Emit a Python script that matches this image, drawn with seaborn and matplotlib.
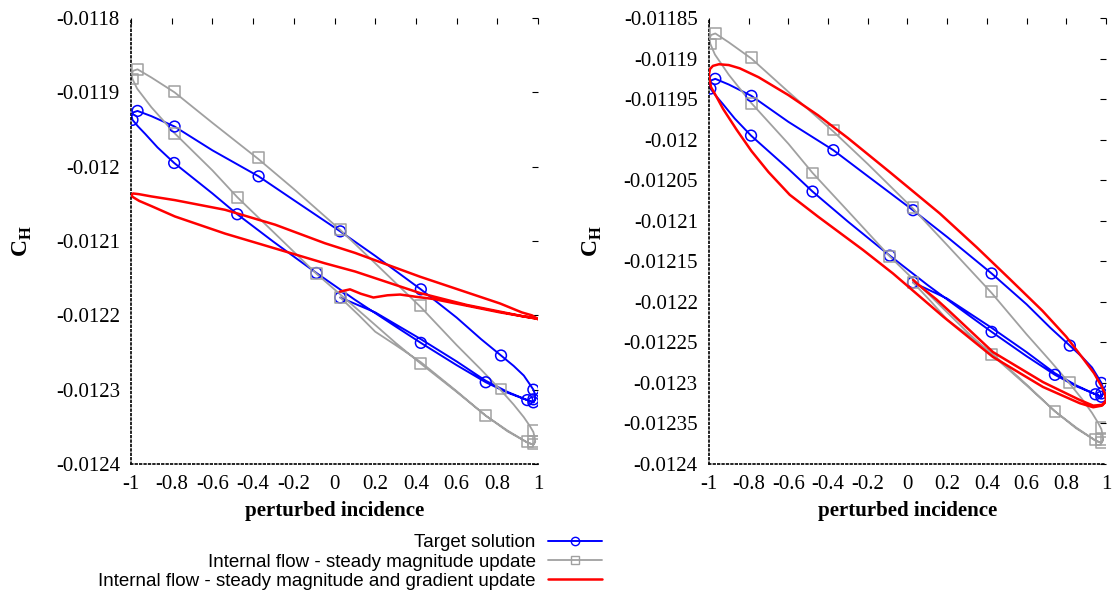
import numpy as np
import pandas as pd
import matplotlib
matplotlib.use('Agg')
import matplotlib.pyplot as plt
import matplotlib.ticker as mticker
from matplotlib.lines import Line2D
import seaborn as sns

# ------------------------------------------------------------------
# data (perturbed incidence vs C_H)
# ------------------------------------------------------------------

# target solution : path (shared by both panels)
target_x = [0.028, 0.2, 0.424, 0.6, 0.743, 0.85, 0.947, 0.977, 0.986, 0.985, 0.977,
            0.96, 0.93, 0.88, 0.818, 0.72, 0.6, 0.424, 0.2, 0.028, -0.2, -0.373, -0.6,
            -0.786, -0.9, -0.968, -0.99, -0.997, -0.993, -0.965, -0.93, -0.87, -0.788,
            -0.6, -0.478, -0.3, -0.089, 0.1, 0.3, 0.424, 0.6, 0.743, 0.85, 0.947, 0.977,
            0.986]
target_y = [-0.012176, -0.012196, -0.012232, -0.012262, -0.012288, -0.012303, -0.012314,
            -0.012317, -0.012313, -0.012306, -0.012300, -0.012293, -0.012281, -0.012268,
            -0.012254, -0.012232, -0.012203, -0.012165, -0.012120, -0.012087, -0.012045,
            -0.012013, -0.011978, -0.011946, -0.011932, -0.011925, -0.011927, -0.011932,
            -0.011937, -0.011946, -0.011956, -0.011974, -0.011995, -0.012036, -0.012064,
            -0.012101, -0.012143, -0.012179, -0.012215, -0.012237, -0.012267, -0.012290,
            -0.012304, -0.012314, -0.012317, -0.012313]
# target solution : symbols
target_mx = [-0.993, -0.968, -0.786, -0.788, -0.373, -0.478, 0.028, -0.089, 0.424,
             0.028, 0.424, 0.818, 0.743, 0.977, 0.947, 0.977, 0.977]
target_my = [-0.011937, -0.011925, -0.011946, -0.011995, -0.012013, -0.012064, -0.012087,
             -0.012143, -0.012165, -0.012176, -0.012237, -0.012254, -0.012290, -0.012300,
             -0.012314, -0.012313, -0.012317]

# internal flow - steady magnitude update : path (shared by both panels)
steady_x = [0.028, 0.12, 0.2, 0.3, 0.424, 0.6, 0.743, 0.85, 0.947, 0.977, 0.986, 0.983,
            0.977, 0.96, 0.93, 0.88, 0.818, 0.72, 0.6, 0.424, 0.2, 0.028, -0.2, -0.373,
            -0.6, -0.786, -0.9, -0.968, -0.99, -0.997, -0.993, -0.97, -0.9, -0.786, -0.6,
            -0.478, -0.3, -0.089, 0.1, 0.3, 0.424, 0.6, 0.743, 0.85, 0.947, 0.977, 0.986]
steady_y = [-0.012176, -0.012200, -0.012222, -0.012240, -0.012263, -0.012302, -0.012335,
            -0.012355, -0.012371, -0.012374, -0.012370, -0.012364, -0.012357, -0.012349,
            -0.012337, -0.012320, -0.012301, -0.012273, -0.012240, -0.012189, -0.012130,
            -0.012085, -0.012030, -0.011990, -0.011941, -0.011900, -0.011880, -0.011869,
            -0.011871, -0.011876, -0.011882, -0.011895, -0.011920, -0.011955, -0.012005,
            -0.012041, -0.012088, -0.012144, -0.012189, -0.012237, -0.012265, -0.012303,
            -0.012335, -0.012356, -0.012371, -0.012374, -0.012370]
# internal flow - steady magnitude update : symbols
steady_mx = [-0.993, -0.968, -0.786, -0.786, -0.373, -0.478, 0.028, -0.089, 0.028,
             0.424, 0.424, 0.818, 0.743, 0.977, 0.947, 0.977, 0.977]
steady_my = [-0.011882, -0.011869, -0.011899, -0.011955, -0.011988, -0.012041, -0.012084,
             -0.012144, -0.012176, -0.012187, -0.012265, -0.012299, -0.012335, -0.012355,
             -0.012370, -0.012373, -0.012370]

# internal flow - steady magnitude and gradient update : left panel
grad_left_x = [0.027, 0.076, 0.13, 0.191, 0.26, 0.322, 0.4, 0.486, 0.65, 0.813, 0.92,
               0.985, 1.0, 0.97, 0.92, 0.813, 0.42, 0.101, -0.047, -0.292, -0.538, -0.784,
               -0.9, -0.96, -0.99, -1.0, -0.99, -0.96, -0.9, -0.784, -0.538, -0.292,
               -0.047, 0.101, 0.42, 0.65, 0.813, 0.92, 0.985, 1.0]
grad_left_y = [-0.012168, -0.012165, -0.012171, -0.012176, -0.012173, -0.012172, -0.012175,
               -0.012178, -0.012187, -0.012196, -0.012201, -0.012204, -0.012205, -0.012200,
               -0.012196, -0.012184, -0.012148, -0.012116, -0.012103, -0.012078, -0.012058,
               -0.012045, -0.012040, -0.012037, -0.012036, -0.012038, -0.012041, -0.012046,
               -0.012053, -0.012067, -0.012090, -0.012110, -0.012130, -0.012141, -0.012170,
               -0.012186, -0.012195, -0.012201, -0.012204, -0.012205]

# internal flow - steady magnitude and gradient update : right panel
grad_right_x = [0.028, 0.08, 0.146, 0.213, 0.431, 0.683, 0.868, 0.936, 0.98, 1.0, 0.995,
                0.975, 0.94, 0.885, 0.80, 0.68, 0.516, 0.35, 0.163, -0.089, -0.3, -0.45,
                -0.6, -0.75, -0.845, -0.9, -0.95, -0.98, -0.995, -1.0, -0.99, -0.96,
                -0.929, -0.86, -0.786, -0.7, -0.593, -0.45, -0.224, -0.073, 0.179, 0.431,
                0.683, 0.868, 0.936, 0.98, 1.0]
grad_right_y = [-0.012173, -0.012184, -0.012197, -0.012212, -0.012262, -0.012299, -0.012321,
                -0.012328, -0.012327, -0.012322, -0.012313, -0.012303, -0.012288, -0.012270,
                -0.012243, -0.012211, -0.012172, -0.012133, -0.012091, -0.012040, -0.011998,
                -0.011970, -0.011945, -0.011923, -0.011912, -0.011908, -0.011907, -0.011909,
                -0.011913, -0.011920, -0.011935, -0.011948, -0.011962, -0.011988, -0.012014,
                -0.012040, -0.012068, -0.012095, -0.012136, -0.012165, -0.012218, -0.012268,
                -0.012305, -0.012325, -0.012330, -0.012328, -0.012323]

labels = ['Target solution',
          'Internal flow - steady magnitude update',
          'Internal flow - steady magnitude and gradient update']
colors = ['#0000ff', '#a0a0a0', '#ff0000']

left_yticks = [-0.0118, -0.0119, -0.0120, -0.0121, -0.0122, -0.0123, -0.0124]
right_yticks = [-0.01185, -0.0119, -0.01195, -0.0120, -0.01205, -0.0121, -0.01215,
                -0.0122, -0.01225, -0.0123, -0.01235, -0.0124]
xticks = [-1, -0.8, -0.6, -0.4, -0.2, 0, 0.2, 0.4, 0.6, 0.8, 1]

# ------------------------------------------------------------------
# style
# ------------------------------------------------------------------
sns.set_theme(style='white')
plt.rcParams['font.family'] = ['Liberation Serif', 'DejaVu Serif']
plt.rcParams['axes.unicode_minus'] = False
plt.rcParams['mathtext.fontset'] = 'custom'
plt.rcParams['mathtext.rm'] = 'Liberation Serif'
plt.rcParams['mathtext.bf'] = 'Liberation Serif:bold'

fig = plt.figure(figsize=(11.17, 5.93), dpi=100)
ax_l = fig.add_axes([0.1173, 0.2175, 0.3644, 0.7521])
ax_r = fig.add_axes([0.6347, 0.2175, 0.3554, 0.7521])


def draw_panel(ax, gx, gy, yticks, ylim):
    # target solution
    sns.lineplot(x=target_x, y=target_y, sort=False, estimator=None,
                 color=colors[0], lw=1.4, ax=ax)
    sns.scatterplot(x=target_mx, y=target_my, marker='o', s=60,
                    facecolors='none', edgecolors=colors[0], linewidth=1.1, ax=ax, zorder=3)
    # steady magnitude update
    sns.lineplot(x=steady_x, y=steady_y, sort=False, estimator=None,
                 color=colors[1], lw=1.3, ax=ax)
    sns.scatterplot(x=steady_mx, y=steady_my, marker='s', s=60,
                    facecolors='none', edgecolors=colors[1], linewidth=1.1, ax=ax, zorder=3)
    # magnitude + gradient update
    sns.lineplot(x=gx, y=gy, sort=False, estimator=None,
                 color=colors[2], lw=1.8, ax=ax, zorder=4)

    ax.set_xlim(-1, 1)
    ax.set_ylim(*ylim)
    ax.set_xticks(xticks)
    ax.set_yticks(yticks)
    ax.xaxis.set_major_formatter(mticker.FuncFormatter(lambda v, p: '%g' % round(v, 6)))
    ax.yaxis.set_major_formatter(mticker.FuncFormatter(lambda v, p: '%g' % round(v, 7)))
    ax.tick_params(direction='in', length=4, width=0.8, color='black',
                   top=True, right=True, labelsize=15, pad=8, labelcolor='black')

    for side in ['top', 'right']:
        ax.spines[side].set_visible(False)
    for side in ['left', 'bottom']:
        ax.spines[side].set_linestyle(':')
        ax.spines[side].set_color('black')
        ax.spines[side].set_linewidth(1.2)

    ax.set_xlabel('perturbed incidence', fontsize=15, fontweight='bold', color='black')
    ax.set_ylabel(r'$\mathbf{C}_{\mathbf{H}}$', fontsize=17, color='black')
    ax.xaxis.set_label_coords(0.5, -0.082)


draw_panel(ax_l, grad_left_x, grad_left_y, left_yticks, (-0.0124, -0.0118))
draw_panel(ax_r, grad_right_x, grad_right_y, right_yticks, (-0.0124, -0.01185))
ax_l.yaxis.set_label_coords(-0.238, 0.5)
ax_r.yaxis.set_label_coords(-0.265, 0.5)

# legend below the left panel, symbol on the right of the text
handles = [Line2D([], [], color=colors[0], lw=1.4, marker='o', ms=6, mfc='none'),
           Line2D([], [], color=colors[1], lw=1.3, marker='s', ms=6, mfc='none'),
           Line2D([], [], color=colors[2], lw=1.8)]
fig.legend(handles, labels, loc='upper right', bbox_to_anchor=(0.539, 0.099),
           frameon=False, markerfirst=False, borderpad=0, borderaxespad=0,
           handlelength=2.9, handletextpad=0.65, labelspacing=0.11, labelcolor='black',
           prop={'family': 'Liberation Sans', 'size': 13.5})

fig.savefig('out.png', dpi=100)
